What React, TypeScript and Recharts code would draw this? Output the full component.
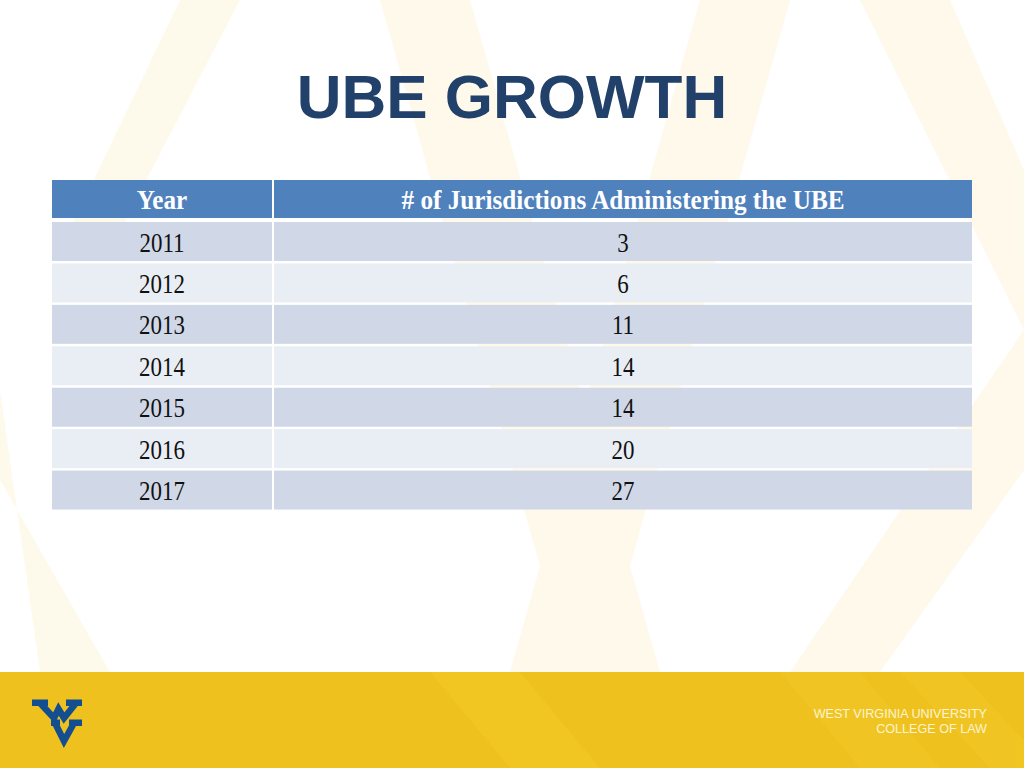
import React from 'react';
import { BarChart, Bar, XAxis, YAxis } from 'recharts';

const years = ['2011', '2012', '2013', '2014', '2015', '2016', '2017'];
const counts = [3, 6, 11, 14, 14, 20, 27];
const headers = ['Year', '# of Jurisdictions Administering the UBE'];
const title = 'UBE GROWTH';
const footerLines = ['WEST VIRGINIA UNIVERSITY', 'COLLEGE OF LAW'];

const rows = years.map((year, i) => ({ year, count: counts[i] }));

const W = 1024;
const H = 768;
const TABLE_LEFT = 52;
const TABLE_RIGHT = 972;
const YEAR_COL = 220;
const GAP = 2;
const SERIF = '"Liberation Serif", "Times New Roman", serif';
const SANS = '"Liberation Sans", Arial, Helvetica, sans-serif';
const SX = 0.82;
const SX_HEAD = 0.9;

const RowBackground = (props: any) => {
  const { x, y, width, height, index } = props;
  const h = height - GAP;
  const fill = index % 2 === 0 ? '#d0d8e8' : '#e9edf4';
  const base = y + h / 2 + 10;
  const valX = x + YEAR_COL + GAP;
  const valW = width - YEAR_COL - GAP;
  return (
    <g>
      <rect x={x} y={y} width={YEAR_COL} height={h} fill={fill} />
      <rect x={valX} y={y} width={valW} height={h} fill={fill} />
      <text
        transform={`translate(${x + YEAR_COL / 2},${base}) scale(${SX},1)`}
        textAnchor="middle"
        fontFamily={SERIF}
        fontSize={28}
        fill="#111"
      >
        {years[index]}
      </text>
      <text
        transform={`translate(${valX + valW / 2},${base}) scale(${SX},1)`}
        textAnchor="middle"
        fontFamily={SERIF}
        fontSize={28}
        fill="#111"
      >
        {counts[index]}
      </text>
    </g>
  );
};

const Decor = () => {
  const valCx = (TABLE_LEFT + YEAR_COL + GAP + TABLE_RIGHT) / 2;
  return (
    <svg width={W} height={H} style={{ position: 'absolute', left: 0, top: 0 }}>
      <rect x={0} y={0} width={W} height={H} fill="#ffffff" />
      <g fill="#fbe7a4" opacity={0.22}>
        <polygon points="380,0 470,0 660,672 570,672" />
        <polygon points="700,0 790,0 600,672 510,672" />
        <polygon points="860,0 950,0 1024,170 1024,330" />
        <polygon points="1024,330 1024,470 880,672 790,672" />
        <polygon points="0,390 0,480 110,672 40,672" />
        <polygon points="180,0 240,0 110,250 60,250" />
      </g>
      <text
        x={512}
        y={118}
        textAnchor="middle"
        fontFamily={SANS}
        fontWeight="bold"
        fontSize={62}
        fill="#22416a"
      >
        {title}
      </text>
      <rect x={TABLE_LEFT} y={180} width={YEAR_COL} height={38} fill="#4f81bd" />
      <rect x={TABLE_LEFT + YEAR_COL + GAP} y={180} width={TABLE_RIGHT - TABLE_LEFT - YEAR_COL - GAP} height={38} fill="#4f81bd" />
      <text
        transform={`translate(${TABLE_LEFT + YEAR_COL / 2},209) scale(${SX_HEAD},1)`}
        textAnchor="middle"
        fontFamily={SERIF}
        fontWeight="bold"
        fontSize={28}
        fill="#ffffff"
      >
        {headers[0]}
      </text>
      <text
        transform={`translate(${valCx},209) scale(${SX_HEAD},1)`}
        textAnchor="middle"
        fontFamily={SERIF}
        fontWeight="bold"
        fontSize={28}
        fill="#ffffff"
      >
        {headers[1]}
      </text>
      <rect x={0} y={672} width={W} height={96} fill="#efc11e" />
      <g fill="#f3c928" opacity={0.45}>
        <polygon points="430,672 520,672 600,768 510,768" />
        <polygon points="780,672 860,672 940,768 860,768" />
        <polygon points="900,672 960,672 1024,740 1024,768 990,768" />
      </g>
      <g fill="none" stroke="#134f90" strokeWidth={6.5} strokeLinejoin="miter" strokeMiterlimit={10}>
        <polyline points="40,703 54,718 58.5,709 64,718 76,703" />
        <polyline points="55,723 64,741 74,723" />
      </g>
      <g fill="#134f90">
        <rect x={32} y={699.5} width={16} height={6.5} />
        <rect x={66} y={699.5} width={16} height={6.5} />
        <rect x={51} y={719.5} width={9} height={6.5} />
        <rect x={69} y={719.5} width={13} height={6.5} />
      </g>
      <text x={987} y={718} textAnchor="end" fontFamily={SANS} fontSize={12.6} fill="#fdf4d2">
        {footerLines[0]}
      </text>
      <text x={987} y={733} textAnchor="end" fontFamily={SANS} fontSize={12.6} fill="#fdf4d2">
        {footerLines[1]}
      </text>
    </svg>
  );
};

export default function App() {
  return (
    <div style={{ position: 'absolute', left: 0, top: 0, width: W, height: H, overflow: 'hidden' }}>
      <Decor />
      <div style={{ position: 'absolute', left: 0, top: 0 }}>
        <BarChart
          width={W}
          height={H}
          data={rows}
          layout="vertical"
          margin={{ top: 222, bottom: 256, left: TABLE_LEFT, right: W - TABLE_RIGHT }}
          barCategoryGap={0}
        >
          <XAxis type="number" domain={[0, 30]} hide />
          <YAxis type="category" dataKey="year" hide />
          <Bar
            dataKey="count"
            isAnimationActive={false}
            background={RowBackground}
            shape={() => <g />}
          />
        </BarChart>
      </div>
    </div>
  );
}
